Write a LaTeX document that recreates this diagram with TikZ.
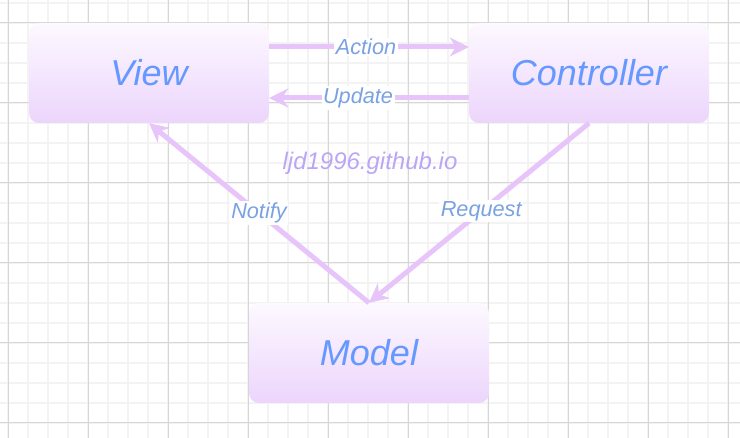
\documentclass[tikz,border=0pt]{standalone}
\usepackage{fontspec}
\setmainfont{Liberation Sans}
\usetikzlibrary{arrows.meta}
\definecolor{boxtop}{HTML}{FDF9FF}
\definecolor{boxbot}{HTML}{ECD5FC}
\definecolor{maintext}{HTML}{6699FF}
\definecolor{labtext}{HTML}{7AA2E2}
\definecolor{wmtext}{HTML}{BBA6F6}
\definecolor{arrowc}{HTML}{E7C5FB}
\definecolor{minorgrid}{HTML}{F3F3F3}
\definecolor{majorgrid}{HTML}{D6D6D6}
\tikzset{
  mvcbox/.style={rectangle, rounded corners=10pt, minimum width=240pt, minimum height=100pt,
    top color=boxtop, bottom color=boxbot, draw=none, text=maintext,
    font=\fontsize{36}{40}\selectfont\itshape},
  conn/.style={draw=arrowc, line width=5pt,
    -{Stealth[length=19pt,width=19pt,inset=6pt]}},
  lab/.style={fill=white, text=labtext, inner sep=1.5pt,
    font=\fontsize{21.7}{24}\selectfont\itshape},
  wm/.style={text=wmtext, font=\fontsize{24}{28}\selectfont\itshape}
}
\begin{document}
\begin{tikzpicture}[x=1pt,y=-1pt]
\useasboundingbox (0,0) rectangle (740,438);
\fill[white] (0,0) rectangle (740,438);
% minor grid
\foreach \i in {0,...,36} {
  \draw[minorgrid, line width=2pt] ({8.3+20*\i},0) -- ({8.3+20*\i},438);
}
\foreach \j in {0,...,21} {
  \draw[minorgrid, line width=2pt] (0,{2.7+20*\j}) -- (740,{2.7+20*\j});
}
% major grid
\foreach \i in {0,...,9} {
  \draw[majorgrid, line width=1pt] ({8.3+80*\i},0) -- ({8.3+80*\i},438);
}
\foreach \j in {0,...,5} {
  \draw[majorgrid, line width=1pt] (0,{22.7+80*\j}) -- (740,{22.7+80*\j});
}
% nodes
\node[mvcbox] (view) at (149,73) {View};
\node[mvcbox] (ctrl) at (589,73) {Controller};
\node[mvcbox] (model) at (369,353) {Model};
\node[wm] (wm) at (370,163) {ljd1996.github.io};
% connectors
\draw[conn] ([yshift=26pt]view.east) -- node[lab, pos=0.485] (lact) {Action} ([yshift=26pt]ctrl.west);
\draw[conn] ([yshift=-25pt]ctrl.west) -- node[lab, pos=0.555] (lupd) {Update} ([yshift=-25pt]view.east);
\draw[conn] (model.north) -- node[lab, pos=0.5] (lnot) {Notify} (view.south);
\draw[conn] (ctrl.south) -- node[lab, pos=0.49] (lreq) {Request} (model.north);
\end{tikzpicture}
\end{document}
